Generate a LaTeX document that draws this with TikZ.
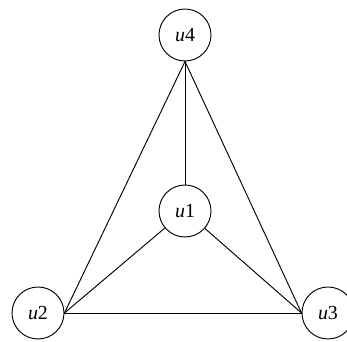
\documentclass[tikz,border=0pt]{standalone}
\usepackage{fontspec}
\setmainfont{Liberation Serif}
\usetikzlibrary{positioning}

\begin{document}
\begin{tikzpicture}[
  vertex/.style={draw, circle, minimum size=1.56cm, inner sep=0pt,
                 line width=0.8pt, font=\fontsize{17}{19}\selectfont},
  edge/.style={line width=0.8pt}
]
  \useasboundingbox (0, 0) rectangle (10.41, -10.26);
  \node[vertex] (u4) at (5.55, -1.05) {\textit{u}4};
  \node[vertex] (u1) at (5.55, -6.33) {\textit{u}1};
  \node[vertex] (u2) at (1.14, -9.39) {\textit{u}2};
  \node[vertex] (u3) at (9.84, -9.39) {\textit{u}3};

  \draw[edge] (u4.south) -- (u1.north);
  \draw[edge] (u4.south) -- (u2.east);
  \draw[edge] (u4.south) -- (u3.west);
  \draw[edge] (u1) -- (u2.east);
  \draw[edge] (u1) -- (u3.west);
  \draw[edge] (u2.east) -- (u3.west);
\end{tikzpicture}
\end{document}
